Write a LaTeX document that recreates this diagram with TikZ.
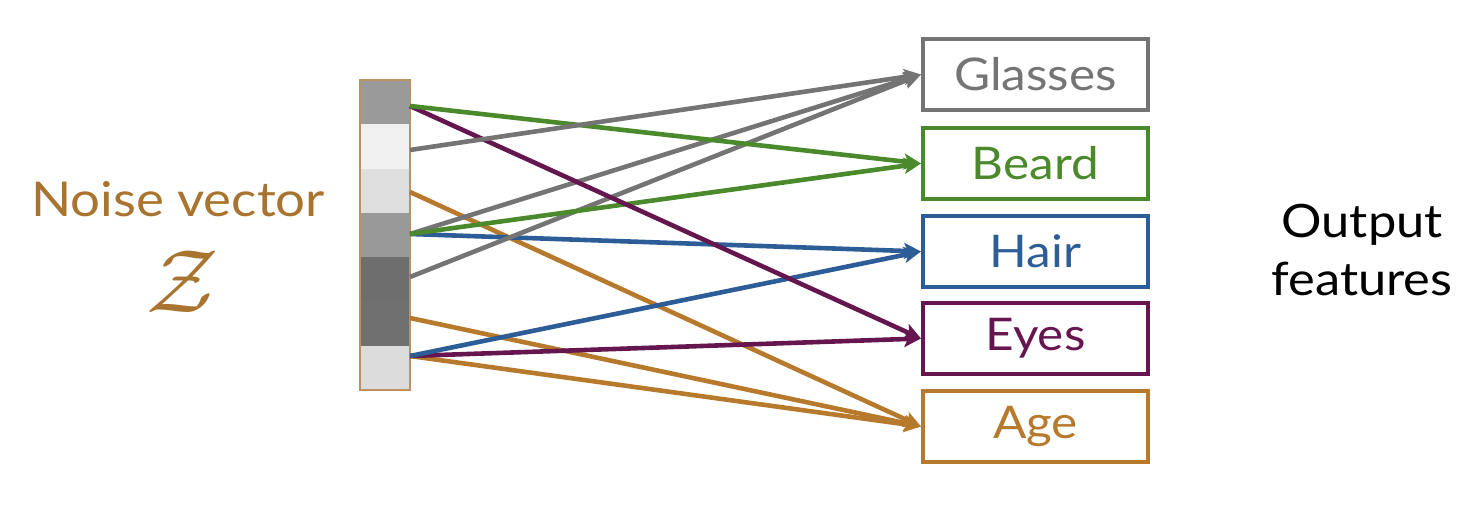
\RequirePackage{fix-cm}
\documentclass[tikz,border=0pt]{standalone}
\usepackage{fontspec}
\setmainfont{Lato}[FakeStretch=1.1]
\usetikzlibrary{arrows.meta}
\definecolor{cgray}{HTML}{747474}
\definecolor{cgreen}{HTML}{4B8A2C}
\definecolor{cblue}{HTML}{2C5D96}
\definecolor{cpurple}{HTML}{66164F}
\definecolor{corange}{HTML}{B7792C}
\definecolor{cnoise}{HTML}{A9742F}
\definecolor{cborder}{HTML}{BC9160}
\tikzset{
  cell/.style={draw=none, inner sep=0pt, outer sep=0pt, minimum width=25pt, minimum height=22.14pt},
  featbox/.style={draw=#1, text=#1, line width=2pt, minimum width=112.5pt, minimum height=35.5pt, inner sep=0pt,
    font=\fontsize{22.5}{26}\selectfont},
  conn/.style={draw=#1, line width=2.3pt, -{Stealth[length=8.5pt,width=8pt,inset=2pt]}},
}
\begin{document}
\begin{tikzpicture}[x=0.5pt,y=-0.5pt]
\useasboundingbox (0,0) rectangle (1476,506);
% noise vector cells
\node[cell, fill={rgb,255:red,154;green,154;blue,154}] (c1) at (385,102.1) {};
\node[cell, fill={rgb,255:red,240;green,240;blue,240}] (c2) at (385,146.4) {};
\node[cell, fill={rgb,255:red,222;green,222;blue,222}] (c3) at (385,190.7) {};
\node[cell, fill={rgb,255:red,153;green,153;blue,153}] (c4) at (385,235.0) {};
\node[cell, fill={rgb,255:red,110;green,110;blue,110}] (c5) at (385,279.3) {};
\node[cell, fill={rgb,255:red,112;green,112;blue,112}] (c6) at (385,323.6) {};
\node[cell, fill={rgb,255:red,220;green,220;blue,220}] (c7) at (385,367.9) {};
\draw[cborder, line width=0.8pt] (c1.north west) rectangle (c7.south east);
% labels
\node[text=cnoise, font=\fontsize{24}{28}\selectfont, anchor=base] (nv) at (178,217) {Noise vector};
\node[text=cnoise, font=\fontsize{45}{45}\selectfont] (z) at (183,282) {$\mathcal{Z}$};
\node[align=center, font=\fontsize{23}{29}\selectfont] (out) at (1362,250) {Output\\features};
% feature boxes
\node[featbox=cgray]   (g) at (1035.5,74.5)  {Glasses};
\node[featbox=cgreen]  (b) at (1035.5,163.5) {Beard};
\node[featbox=cblue]   (h) at (1035.5,251.5) {Hair};
\node[featbox=cpurple] (e) at (1035.5,338.5) {Eyes};
\node[featbox=corange] (a) at (1035.5,426.5) {Age};
% start points
\coordinate (s1) at (410,106);
\coordinate (s2) at (410,150);
\coordinate (s3) at (410,192);
\coordinate (s4) at (410,234);
\coordinate (s5) at (410,277);
\coordinate (s6) at (410,318);
\coordinate (s7) at (410,356);
% connectors
\draw[conn=corange] (s3) -- (a.west);
\draw[conn=corange] (s6) -- (a.west);
\draw[conn=corange] (s7) -- (a.west);
\draw[conn=cpurple] (s7) -- (e.west);
\draw[conn=cblue] (s7) -- (h.west);
\draw[conn=cblue] (s4) -- (h.west);
\draw[conn=cgray] (s5) -- (g.west);
\draw[conn=cgray] (s4) -- (g.west);
\draw[conn=cgreen] (s4) -- (b.west);
\draw[conn=cpurple] (s1) -- (e.west);
\draw[conn=cgreen] (s1) -- (b.west);
\draw[conn=cgray] (s2) -- (g.west);
\end{tikzpicture}
\end{document}
